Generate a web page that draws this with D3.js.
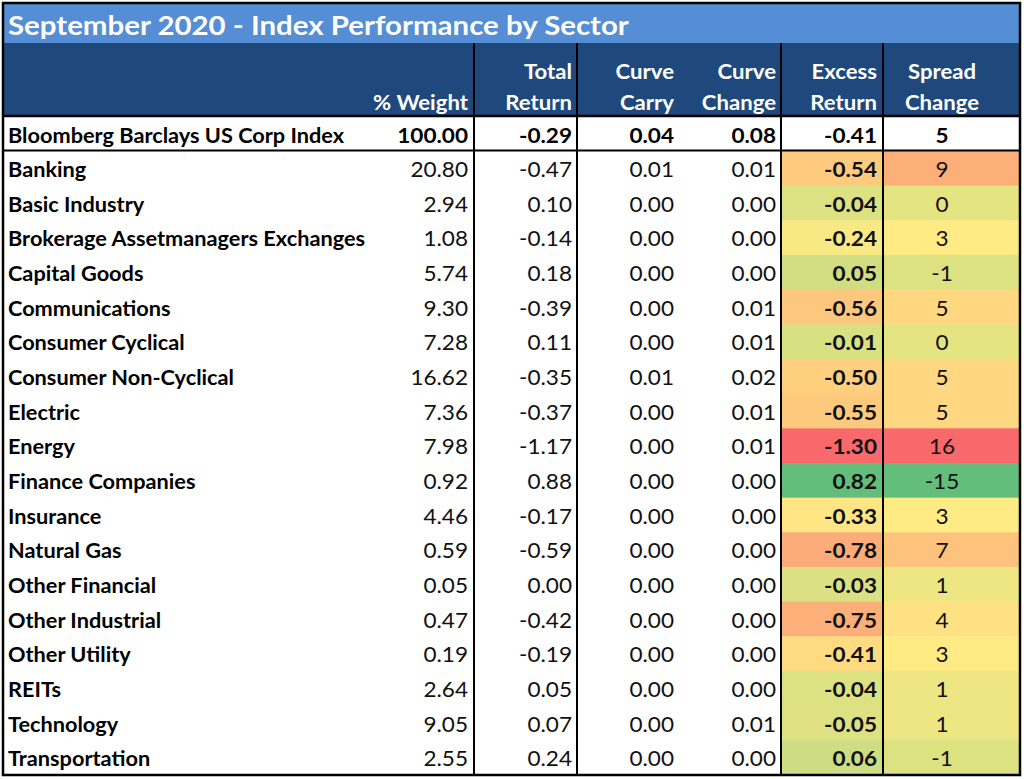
<!DOCTYPE html>
<html>
<head>
<meta charset="utf-8">
<script src="https://cdn.jsdelivr.net/npm/d3@7"></script>
<style>
  body { margin: 0; background: #fff; }
  svg text { font-family: Lato, "Open Sans", sans-serif; }
</style>
</head>
<body>
<svg id="tbl" width="1024" height="779"></svg>
<script>
// table values
const title = "September 2020 - Index Performance by Sector";
const headers = [["% Weight"], ["Total", "Return"], ["Curve", "Carry"], ["Curve", "Change"], ["Excess", "Return"], ["Spread", "Change"]];
const indexName = "Bloomberg Barclays US Corp Index";
const indexValues = ["100.00", "-0.29", "0.04", "0.08", "-0.41", "5"];

const sectors = ["Banking", "Basic Industry", "Brokerage Assetmanagers Exchanges", "Capital Goods", "Communications",
  "Consumer Cyclical", "Consumer Non-Cyclical", "Electric", "Energy", "Finance Companies", "Insurance", "Natural Gas",
  "Other Financial", "Other Industrial", "Other Utility", "REITs", "Technology", "Transportation"];
const weight = [20.80, 2.94, 1.08, 5.74, 9.30, 7.28, 16.62, 7.36, 7.98, 0.92, 4.46, 0.59, 0.05, 0.47, 0.19, 2.64, 9.05, 2.55];
const totalReturn = [-0.47, 0.10, -0.14, 0.18, -0.39, 0.11, -0.35, -0.37, -1.17, 0.88, -0.17, -0.59, 0.00, -0.42, -0.19, 0.05, 0.07, 0.24];
const curveCarry = [0.01, 0.00, 0.00, 0.00, 0.00, 0.00, 0.01, 0.00, 0.00, 0.00, 0.00, 0.00, 0.00, 0.00, 0.00, 0.00, 0.00, 0.00];
const curveChange = [0.01, 0.00, 0.00, 0.00, 0.01, 0.01, 0.02, 0.01, 0.01, 0.00, 0.00, 0.00, 0.00, 0.00, 0.00, 0.00, 0.01, 0.00];
const excessReturn = [-0.54, -0.04, -0.24, 0.05, -0.56, -0.01, -0.50, -0.55, -1.30, 0.82, -0.33, -0.78, -0.03, -0.75, -0.41, -0.04, -0.05, 0.06];
const spreadChange = [9, 0, 3, -1, 5, 0, 5, 5, 16, -15, 3, 7, 1, 4, 3, 1, 1, -1];

const svg = d3.select("#tbl");
const bLeft = 3, bRight = 1020, bTop = 3, bBottom = 775;
const fs = 20.5;
const sxLabel = 1.06, sxNum = 1.1; // Calibri-ish width with Lato glyphs

// column layout: edges, where the text sits, how it is anchored
const cols = [
  { x0: bLeft, x1: 474, tx: 468, anchor: "end" },
  { x0: 474, x1: 577, tx: 572, anchor: "end" },
  { x0: 577, x1: 680, tx: 674, anchor: "end" },
  { x0: 680, x1: 781, tx: 776, anchor: "end" },
  { x0: 781, x1: 883, tx: 877, anchor: "end" },
  { x0: 883, x1: bRight, tx: 942, anchor: "middle" }
];

const rows = d3.scaleBand().domain(sectors).range([151, bBottom]).padding(0);

// 3 colour scales like excel (min / median / max)
const red = "#F8696B", yellow = "#FFEB84", green = "#63BE7B";
const exColor = d3.scaleLinear()
  .domain([d3.min(excessReturn), d3.median(excessReturn), d3.max(excessReturn)])
  .range([red, yellow, green]);
const spColor = d3.scaleLinear()
  .domain([d3.min(spreadChange), d3.median(spreadChange), d3.max(spreadChange)])
  .range([green, yellow, red]);

// put text at x,y and stretch it a bit horizontally
function place(sel, x, y, sx) {
  return sel.attr("x", 0).attr("y", 0)
    .attr("transform", (d, i) => `translate(${typeof x === "function" ? x(d, i) : x},${y}) scale(${sx},1)`);
}

// title bar + header
svg.append("rect").attr("x", bLeft).attr("y", bTop).attr("width", bRight - bLeft).attr("height", 40).attr("fill", "#558ED5");
svg.append("rect").attr("x", bLeft).attr("y", 43).attr("width", bRight - bLeft).attr("height", 73).attr("fill", "#1F497D");
place(svg.append("text"), 8, 35, 1.09).attr("fill", "#fff")
  .attr("font-size", 27).attr("font-weight", "bold").text(title);

headers.forEach((h, i) => {
  const c = cols[i];
  h.forEach((txt, j) => {
    place(svg.append("text"), c.tx, 110 - (h.length - 1 - j) * 31, 1.08)
      .attr("text-anchor", c.anchor)
      .attr("fill", "#fff").attr("font-size", fs).attr("font-weight", "bold")
      .text(txt);
  });
});

// index row
const idx = svg.append("g");
place(idx.append("text"), 8, 143, sxLabel).attr("font-size", fs).attr("font-weight", "bold").text(indexName);
place(idx.selectAll("text.v").data(indexValues).join("text").attr("class", "v"), (d, i) => cols[i].tx, 143, sxNum)
  .attr("text-anchor", (d, i) => cols[i].anchor)
  .attr("font-size", fs).attr("font-weight", "bold").text(d => d);

// sector rows
const tableRows = sectors.map((s, i) => ({
  name: s,
  vals: [weight[i].toFixed(2), totalReturn[i].toFixed(2), curveCarry[i].toFixed(2), curveChange[i].toFixed(2), excessReturn[i].toFixed(2), String(spreadChange[i])],
  ex: excessReturn[i], sp: spreadChange[i]
}));

const g = svg.selectAll("g.row").data(tableRows).join("g").attr("class", "row")
  .attr("transform", d => `translate(0,${rows(d.name)})`);

g.append("rect").attr("x", 781).attr("width", 883 - 781).attr("height", rows.bandwidth() + 0.5)
  .attr("fill", d => exColor(d.ex));
g.append("rect").attr("x", 883).attr("width", bRight - 883).attr("height", rows.bandwidth() + 0.5)
  .attr("fill", d => spColor(d.sp));

place(g.append("text"), 8, 26, sxLabel).attr("font-size", fs).attr("font-weight", "bold").text(d => d.name);
place(g.selectAll("text.v").data(d => d.vals).join("text").attr("class", "v"), (d, i) => cols[i].tx, 26, sxNum)
  .attr("text-anchor", (d, i) => cols[i].anchor)
  .attr("font-size", fs).attr("font-weight", (d, i) => i === 4 ? "bold" : "normal")
  .attr("fill", "#111").text(d => d);

// grid lines
const line = (x1, y1, x2, y2, w) => svg.append("line").attr("x1", x1).attr("y1", y1).attr("x2", x2).attr("y2", y2)
  .attr("stroke", "#000").attr("stroke-width", w);
[474, 577, 781, 883].forEach(x => line(x, 43, x, bBottom, 2));
line(bLeft, 116, bRight, 116, 2.5);
line(bLeft, 150.5, bRight, 150.5, 2);
svg.append("rect").attr("x", bLeft).attr("y", bTop).attr("width", bRight - bLeft).attr("height", bBottom - bTop)
  .attr("fill", "none").attr("stroke", "#000").attr("stroke-width", 2.5);
</script>
</body>
</html>
